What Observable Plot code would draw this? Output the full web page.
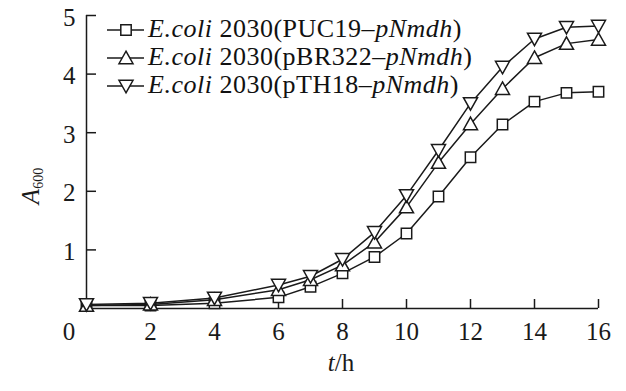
<!DOCTYPE html>
<html><head><meta charset="utf-8">
<script src="https://cdn.jsdelivr.net/npm/d3@7"></script>
<script src="https://cdn.jsdelivr.net/npm/@observablehq/plot@0.6"></script>
<style>
body{margin:0;background:#fff;}
#wrap{position:relative;width:626px;height:391px;overflow:hidden;}
#legend{position:absolute;left:107px;top:15px;font-family:"Liberation Serif","DejaVu Serif",serif;font-size:26px;letter-spacing:0.5px;color:#111;}
.row{display:flex;align-items:center;height:28px;line-height:28px;white-space:nowrap;}
.row svg{margin-right:3px;flex:none}
</style></head><body><div id="wrap"><div id="legend"></div></div>
<script>
const times = [0, 2, 4, 6, 7, 8, 9, 10, 11, 12, 13, 14, 15, 16];
const puc19 = [0.05, 0.05, 0.09, 0.19, 0.37, 0.60, 0.88, 1.28, 1.91, 2.58, 3.14, 3.53, 3.68, 3.70];
const pbr322 = [0.05, 0.07, 0.15, 0.32, 0.49, 0.74, 1.13, 1.73, 2.49, 3.15, 3.75, 4.28, 4.52, 4.59];
const pth18 = [0.07, 0.09, 0.18, 0.40, 0.55, 0.84, 1.30, 1.93, 2.70, 3.50, 4.12, 4.60, 4.80, 4.82];
const seriesNames = ["PUC19", "pBR322", "pTH18"];
const xTicks = [2, 4, 6, 8, 10, 12, 14, 16];
const yTicks = [1, 2, 3, 4, 5];

const INK = "#1a1a1a";
const rad = s => Math.sqrt(s / Math.PI);
const symSquare = {draw(c, s) { const r = rad(s); c.rect(-r, -r, 2 * r, 2 * r); }};
const symUp = {draw(c, s) { const r = rad(s); c.moveTo(0, -1.3 * r); c.lineTo(1.35 * r, 1.1 * r); c.lineTo(-1.35 * r, 1.1 * r); c.closePath(); }};
const symDown = {draw(c, s) { const r = rad(s); c.moveTo(0, 1.3 * r); c.lineTo(1.35 * r, -1.1 * r); c.lineTo(-1.35 * r, -1.1 * r); c.closePath(); }};
const symbols = [symSquare, symUp, symDown];
const values = [puc19, pbr322, pth18];

const rows = values.map(v => times.map((t, i) => ({t, v: v[i]})));

const font = '"Liberation Serif", "DejaVu Serif", serif';
const W = 626, H = 391, mL = 86, mR = 28, mT = 15, mB = 83;
const fw = W - mL - mR, fh = H - mT - mB;
const fmt = d => String(d);

const marks = [
  Plot.ruleY([0], {stroke: INK, strokeWidth: 1.5}),
  Plot.ruleX([0], {stroke: INK, strokeWidth: 1.5}),
  Plot.tickY(yTicks, {y: d => d, stroke: INK, strokeWidth: 1.5, insetRight: fw - 10}),
  Plot.tickX(xTicks, {x: d => d, stroke: INK, strokeWidth: 1.5, insetTop: fh - 9}),
  Plot.axisY(yTicks, {tickSize: 0, tickPadding: 11, fontSize: 25, fontFamily: font, fill: INK, dy: 2, label: null, tickFormat: fmt}),
  Plot.axisX(xTicks, {tickSize: 0, tickPadding: 14, fontSize: 25, fontFamily: font, fill: INK, label: null, tickFormat: fmt}),
  Plot.axisX([0], {tickSize: 0, tickPadding: 14, fontSize: 25, fontFamily: font, fill: INK, dx: -17.5, label: null, tickFormat: fmt}),
  ...rows.map(d => Plot.line(d, {x: "t", y: "v", stroke: INK, strokeWidth: 1.5})),
  ...rows.map((d, i) => Plot.dot(d, {x: "t", y: "v", symbol: symbols[i], r: 5.2, fill: "white", stroke: INK, strokeWidth: 1.5}))
];

const svg = Plot.plot({
  width: W, height: H,
  marginLeft: mL, marginRight: mR, marginTop: mT, marginBottom: mB,
  x: {domain: [0, 16], axis: null},
  y: {domain: [0, 5], axis: null},
  style: {background: "white", overflow: "visible", fontFamily: font},
  marks
});

const s = d3.select(svg);
const yl = s.append("text")
  .attr("transform", "translate(39,186) rotate(-90)")
  .style("font-family", font).attr("fill", INK);
yl.append("tspan").attr("font-size", 25).attr("font-style", "italic").text("A");
yl.append("tspan").attr("font-size", 14).attr("dy", 4).text("600");

const xl = s.append("text")
  .attr("x", 341).attr("y", 371).attr("text-anchor", "middle")
  .style("font-family", font).attr("font-size", 25).attr("fill", INK);
xl.append("tspan").attr("font-style", "italic").text("t");
xl.append("tspan").text("/h");

document.getElementById("wrap").appendChild(svg);

const legend = document.getElementById("legend");
seriesNames.forEach((name, i) => {
  const row = document.createElement("div");
  row.className = "row";
  const ls = d3.create("svg").attr("width", 38).attr("height", 28);
  ls.append("line").attr("x1", 0).attr("x2", 37).attr("y1", 15).attr("y2", 15).attr("stroke", INK).attr("stroke-width", 1.5);
  ls.append("path").attr("transform", "translate(19,15)")
    .attr("d", d3.symbol(symbols[i], Math.PI * 5.2 * 5.2)())
    .attr("fill", "white").attr("stroke", INK).attr("stroke-width", 1.5);
  row.appendChild(ls.node());
  const span = document.createElement("span");
  span.innerHTML = `<i>E.coli</i> 2030(${name}–<i>pNmdh</i>)`;
  row.appendChild(span);
  legend.appendChild(row);
});
</script></body></html>
